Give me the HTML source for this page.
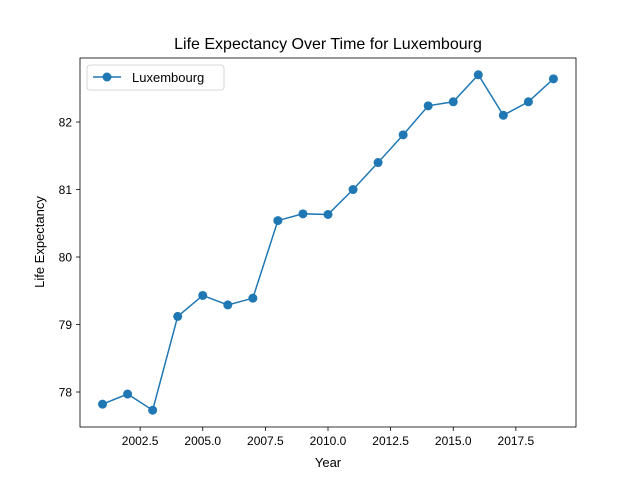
<!DOCTYPE html>
<html><head><meta charset="utf-8"><style>
body{margin:0;background:#fff;}
svg{display:block;font-family:"Liberation Sans","DejaVu Sans",sans-serif;}
</style></head><body>
<svg id="chart" width="640" height="480">
<rect width="640" height="480" fill="#fff"/>
<text x="328" y="49" text-anchor="middle" font-size="16">Life Expectancy Over Time for Luxembourg</text>
<text x="328" y="467" text-anchor="middle" font-size="13">Year</text>
<text x="44" y="242" text-anchor="middle" font-size="13" transform="rotate(-90 44 242)">Life Expectancy</text>
<g id="ticks"></g>
<g id="series"></g>
<rect x="80" y="58" width="496" height="369" fill="none" stroke="#000" stroke-width="0.8"/>
<g>
<rect x="87" y="65" width="137" height="25" rx="3" fill="#fff" stroke="#ccc" stroke-width="0.8"/>
<line x1="93" y1="77" x2="121" y2="77" stroke="#1f77b4" stroke-width="1.5"/>
<circle cx="107" cy="77" r="4.5" fill="#1f77b4"/>
<text x="132" y="82" font-size="13">Luxembourg</text>
</g>
</svg>
<script>
const years=[2001,2002,2003,2004,2005,2006,2007,2008,2009,2010,2011,2012,2013,2014,2015,2016,2017,2018,2019];
const lifeExp=[77.82,77.97,77.73,79.12,79.43,79.29,79.39,80.54,80.64,80.63,81.0,81.4,81.81,82.24,82.3,82.7,82.1,82.3,82.64];
const xTicks=[2002.5,2005.0,2007.5,2010.0,2012.5,2015.0,2017.5];
const yTicks=[78,79,80,81,82];
const NS="http://www.w3.org/2000/svg";
const L=80,R=576,T=58,B=427;
const xmin=Math.min(...years),xmax=Math.max(...years),xp=(xmax-xmin)*0.05;
const ymin=Math.min(...lifeExp),ymax=Math.max(...lifeExp),yp=(ymax-ymin)*0.05;
const sx=v=>L+(v-(xmin-xp))/((xmax+xp)-(xmin-xp))*(R-L);
const sy=v=>B-(v-(ymin-yp))/((ymax+yp)-(ymin-yp))*(B-T);
function mk(tag,attrs,parent){const e=document.createElementNS(NS,tag);for(const k in attrs)e.setAttribute(k,attrs[k]);parent.appendChild(e);return e;}
const tg=document.getElementById('ticks');
xTicks.forEach(t=>{const x=sx(t);
 const l=mk('line',{x1:x,x2:x,y1:B,y2:B+4,stroke:'#000','stroke-width':0.8},tg);
 
 
 const tx=mk('text',{x:x,y:B+18,'text-anchor':'middle','font-size':12},tg);tx.textContent=t.toFixed(1);
 
 
});
yTicks.forEach(t=>{const y=sy(t);
 const l=mk('line',{x1:L-4,x2:L,y1:y,y2:y,stroke:'#000','stroke-width':0.8},tg);
 
 
 const tx=mk('text',{x:L-8,y:y+4.5,'text-anchor':'end','font-size':12},tg);tx.textContent=t;
 
 
});
const sg=document.getElementById('series');
const pl=mk('polyline',{points:years.map((y,i)=>sx(y)+','+sy(lifeExp[i])).join(' '),fill:'none',stroke:'#1f77b4','stroke-width':1.5},sg);


years.forEach((y,i)=>{const c=mk('circle',{cx:sx(y),cy:sy(lifeExp[i]),r:4.5,fill:'#1f77b4'},sg);
 
 
});
</script>
</body></html>
